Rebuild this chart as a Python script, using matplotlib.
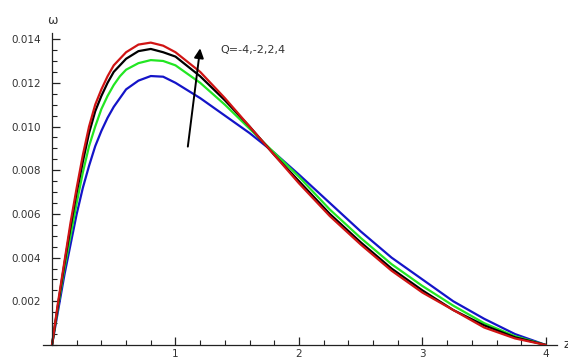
import numpy as np
import matplotlib
matplotlib.use("Agg")
import matplotlib.pyplot as plt
from matplotlib.ticker import MultipleLocator, FuncFormatter

# values
z = [0, 0.05, 0.1, 0.15, 0.2, 0.25, 0.3, 0.35, 0.4, 0.45, 0.5, 0.55, 0.6, 0.7, 0.8, 0.9, 1.0,
     1.2, 1.4, 1.6, 1.8, 2.0, 2.25, 2.5, 2.75, 3.0, 3.25, 3.5, 3.75, 4.0]

w_q_m4 = [0, 0.0016, 0.0032, 0.0046, 0.0060, 0.0072, 0.0082, 0.0091, 0.0098, 0.0104,
          0.0109, 0.0113, 0.0117, 0.0121, 0.01231, 0.01228, 0.0120,
          0.0113, 0.0105, 0.0097, 0.0088, 0.0078, 0.0065,
          0.0052, 0.0040, 0.0030, 0.0020, 0.0012, 0.0005, 0]
w_q_m2 = [0, 0.0018, 0.0035, 0.0050, 0.0065, 0.0079, 0.0091, 0.0100, 0.0108, 0.0114,
          0.0119, 0.0123, 0.0126, 0.0129, 0.01304, 0.0130, 0.0128,
          0.0120, 0.0110, 0.0099, 0.0088, 0.0077, 0.0062,
          0.0049, 0.0037, 0.0027, 0.0018, 0.0010, 0.0004, 0]
w_q_p2 = [0, 0.0019, 0.0037, 0.0054, 0.0070, 0.0084, 0.0097, 0.0107, 0.0114, 0.0120,
          0.0125, 0.0128, 0.0131, 0.01345, 0.01355, 0.0134, 0.0132,
          0.0123, 0.0112, 0.0100, 0.0087, 0.0075, 0.0060,
          0.0047, 0.0035, 0.0025, 0.0016, 0.0009, 0.00035, 0]
w_q_p4 = [0, 0.0020, 0.0038, 0.0056, 0.0072, 0.0087, 0.0100, 0.0110, 0.0117, 0.0123,
          0.0128, 0.0131, 0.0134, 0.01375, 0.01384, 0.0137, 0.0134,
          0.0125, 0.0113, 0.0100, 0.0087, 0.0074, 0.0059,
          0.0046, 0.0034, 0.0024, 0.0016, 0.0008, 0.0003, 0]

series = [w_q_m4, w_q_m2, w_q_p2, w_q_p4]
colors = ['#1414c8', '#22e622', '#000000', '#d01414']

fig = plt.figure(figsize=(5.68, 3.58), dpi=100)
ax = fig.add_axes([43/568, 13/358, 514/568, 312/358])

for w, c in zip(series, colors):
    ax.plot(z, w, color=c, lw=1.6, solid_capstyle='round', solid_joinstyle='round')

ax.set_xlim(-0.073, 4.09)
ax.set_ylim(0, 0.01428)

ax.spines['top'].set_visible(False)
ax.spines['right'].set_visible(False)
ax.spines['left'].set_position(('data', 0))
for s in ('left', 'bottom'):
    ax.spines[s].set_color('#222222')
    ax.spines[s].set_linewidth(0.9)

ax.set_xticks([1, 2, 3, 4])
ax.xaxis.set_minor_locator(MultipleLocator(0.2))
ax.set_yticks([0.002, 0.004, 0.006, 0.008, 0.010, 0.012, 0.014])
ax.yaxis.set_minor_locator(MultipleLocator(0.0005))
ax.yaxis.set_major_formatter(FuncFormatter(lambda v, p: '{:.3f}'.format(v)))

ax.tick_params(which='both', direction='in', color='#222222', labelcolor='#333333', labelsize=7.5)
ax.tick_params(which='major', length=6, width=0.9)
ax.tick_params(which='minor', length=3.5, width=0.8)
ax.tick_params(axis='y', pad=8)
ax.tick_params(axis='x', pad=3)

# arrow and label
ax.annotate('', xy=(1.20, 0.01358), xytext=(1.10, 0.00908),
            arrowprops=dict(arrowstyle='-|>', color='black', lw=1.4,
                            mutation_scale=14, shrinkA=0, shrinkB=0))
ax.text(1.36, 0.0135, 'Q=-4,-2,2,4', fontsize=8, color='#333333', va='center')

fig.text(52/568, 1 - 20/358, 'ω', fontsize=9, color='#333333', ha='center', va='center')
fig.text(563/568, 1 - 344/358, 'z', fontsize=9, color='#333333', ha='left', va='center')

plt.savefig('out.png', dpi=100)
